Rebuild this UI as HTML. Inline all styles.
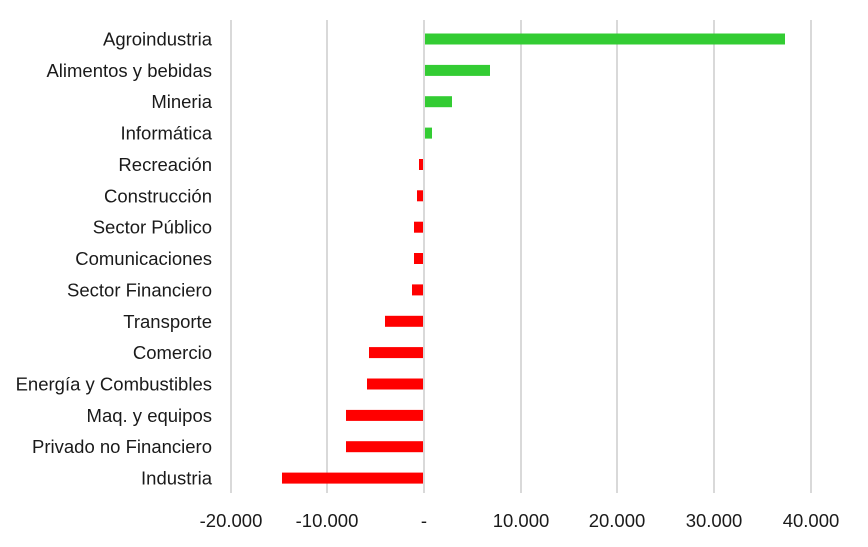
<!DOCTYPE html>
<html><head><style>body{margin:0;background:#fff}svg{display:block}text{font-family:"Liberation Sans",Arial,sans-serif;font-size:18.5px;fill:#1a1a1a}</style></head><body>
<svg width="868" height="547" xmlns="http://www.w3.org/2000/svg">
<g stroke="#d9d9d9" stroke-width="2">
<line x1="231" y1="20" x2="231" y2="493"/><line x1="327" y1="20" x2="327" y2="493"/><line x1="424" y1="20" x2="424" y2="493"/><line x1="521" y1="20" x2="521" y2="493"/><line x1="617" y1="20" x2="617" y2="493"/><line x1="714" y1="20" x2="714" y2="493"/><line x1="811" y1="20" x2="811" y2="493"/>
</g>
<g>
<rect x="425" y="33.5" width="360" height="11" fill="#33cc33"/>
<rect x="425" y="64.9" width="65" height="11" fill="#33cc33"/>
<rect x="425" y="96.2" width="27" height="11" fill="#33cc33"/>
<rect x="425" y="127.6" width="7" height="11" fill="#33cc33"/>
<rect x="419" y="159" width="4" height="11" fill="#ff0000"/>
<rect x="417" y="190.3" width="6" height="11" fill="#ff0000"/>
<rect x="414" y="221.7" width="9" height="11" fill="#ff0000"/>
<rect x="414" y="253" width="9" height="11" fill="#ff0000"/>
<rect x="412" y="284.4" width="11" height="11" fill="#ff0000"/>
<rect x="385" y="315.8" width="38" height="11" fill="#ff0000"/>
<rect x="369" y="347.1" width="54" height="11" fill="#ff0000"/>
<rect x="367" y="378.5" width="56" height="11" fill="#ff0000"/>
<rect x="346" y="409.9" width="77" height="11" fill="#ff0000"/>
<rect x="346" y="441.2" width="77" height="11" fill="#ff0000"/>
<rect x="282" y="472.6" width="141" height="11" fill="#ff0000"/>
</g>
<g text-anchor="end">
<text x="212" y="45.5">Agroindustria</text>
<text x="212" y="76.9">Alimentos y bebidas</text>
<text x="212" y="108.2">Mineria</text>
<text x="212" y="139.6">Informática</text>
<text x="212" y="171">Recreación</text>
<text x="212" y="202.3">Construcción</text>
<text x="212" y="233.7">Sector Público</text>
<text x="212" y="265">Comunicaciones</text>
<text x="212" y="296.4">Sector Financiero</text>
<text x="212" y="327.8">Transporte</text>
<text x="212" y="359.1">Comercio</text>
<text x="212" y="390.5">Energía y Combustibles</text>
<text x="212" y="421.9">Maq. y equipos</text>
<text x="212" y="453.2">Privado no Financiero</text>
<text x="212" y="484.5">Industria</text>
</g>
<g text-anchor="middle" style="font-size:19px">
<text x="231" y="527">-20.000</text>
<text x="327" y="527">-10.000</text>
<text x="424" y="527">-</text>
<text x="521" y="527">10.000</text>
<text x="617" y="527">20.000</text>
<text x="714" y="527">30.000</text>
<text x="811" y="527">40.000</text>
</g>
</svg>
</body></html>
